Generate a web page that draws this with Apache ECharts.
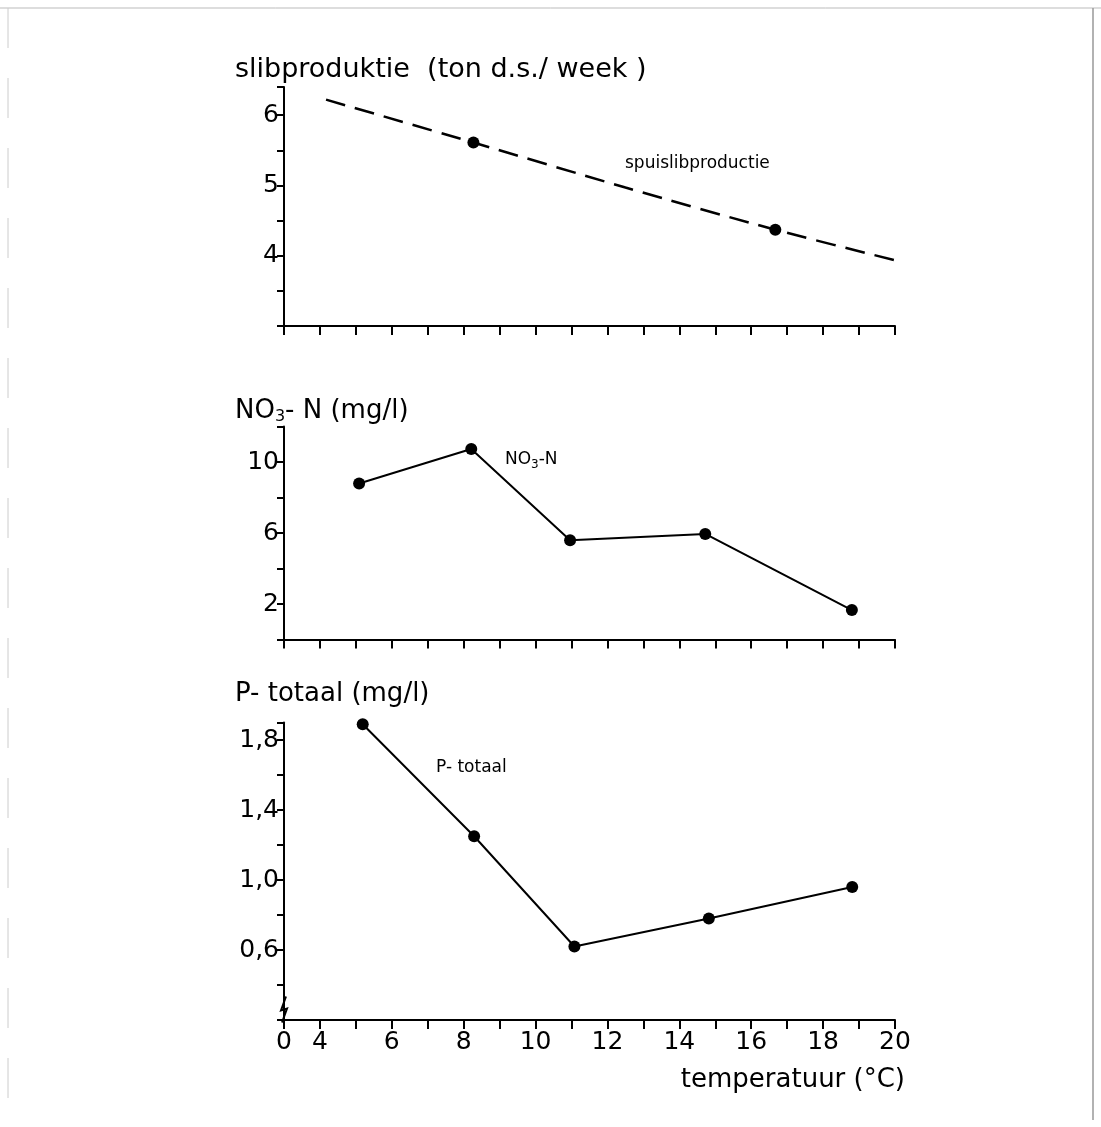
<!DOCTYPE html>
<html>
<head>
<meta charset="UTF-8">
<title>slibproduktie, NO3-N en P-totaal tegen temperatuur</title>
<script src="https://cdn.jsdelivr.net/npm/echarts@6/dist/echarts.min.js"></script>
<style>
    body { margin: 0; background: #fff; }
    #chart { width: 1101px; height: 1127px; }
</style>
</head>
<body>
<div id="chart"></div>
<script>
// temperatuur (x); 3 on the axis is drawn as "0" (broken axis)
var slibCurveT = [4.17, 8.27, 12.5, 16.67, 20.43];
var slibCurveV = [6.22, 5.61, 4.97, 4.37, 3.88];
var slibDotT = [8.27, 16.67];
var slibDotV = [5.61, 4.37];

var no3T = [5.09, 8.21, 10.96, 14.72, 18.8];
var no3V = [8.79, 10.73, 5.59, 5.95, 1.66];

var ptotT = [5.19, 8.29, 11.08, 14.82, 18.81];
var ptotV = [1.89, 1.25, 0.62, 0.78, 0.96];

var font = 'DejaVu Sans';

function zip(a, b) {
    return a.map(function (v, i) { return [v, b[i]]; });
}

var chart = echarts.init(document.getElementById('chart'));

function xAxis(idx, showLabels) {
    return {
        type: 'value', gridIndex: idx, min: 3, max: 20, interval: 1,
        axisLine: { lineStyle: { color: '#000', width: 2 } },
        axisTick: { show: true, inside: false, length: 9, lineStyle: { color: '#000', width: 2 } },
        splitLine: { show: false },
        axisLabel: {
            show: showLabels, margin: 10, color: '#000', fontSize: 25, fontFamily: font,
            formatter: function (v) {
                if (v === 3) return '0';
                return v % 2 === 0 ? String(v) : '';
            }
        }
    };
}

function yAxis(idx, min, max, step, fmt) {
    return {
        type: 'value', gridIndex: idx, min: min, max: max, interval: step,
        axisLine: { show: true, lineStyle: { color: '#000', width: 2 } },
        axisTick: { show: true, length: 7, lineStyle: { color: '#000', width: 2 } },
        splitLine: { show: false },
        axisLabel: { margin: 5, color: '#000', fontSize: 25, fontFamily: font, formatter: fmt }
    };
}

var dotStyle = { color: '#000', opacity: 1 };

chart.setOption({
    animation: false,
    backgroundColor: '#fff',
    title: [
        { text: 'slibproduktie  (ton d.s./ week )', left: 230, top: 51,
          textStyle: { color: '#000', fontSize: 27, fontWeight: 'normal', fontFamily: font } },
        { text: 'NO{s|3}- N (mg/l)', left: 230, top: 392,
          textStyle: { color: '#000', fontSize: 26, fontWeight: 'normal', fontFamily: font,
            rich: { s: { fontSize: 16, fontFamily: font, color: '#000', padding: [12, 0, 0, 0] } } } },
        { text: 'P- totaal (mg/l)', left: 230, top: 676,
          textStyle: { color: '#000', fontSize: 26, fontWeight: 'normal', fontFamily: font } }
    ],
    grid: [
        { left: 284, right: 206, top: 87, height: 239 },
        { left: 284, right: 206, top: 426.5, height: 213 },
        { left: 284, right: 206, top: 722.5, height: 297.5 }
    ],
    xAxis: [xAxis(0, false), xAxis(1, false), xAxis(2, true)],
    yAxis: [
        yAxis(0, 3, 6.4, 0.5, function (v) { return Number.isInteger(v) && v > 3 ? String(v) : ''; }),
        yAxis(1, 0, 12, 2, function (v) { return v % 4 === 2 ? String(v) : ''; }),
        yAxis(2, 0.2, 1.9, 0.2, function (v) {
            var n = Math.round(v * 10);
            return (n === 6 || n === 10 || n === 14 || n === 18) ? (n / 10).toFixed(1).replace('.', ',') : '';
        })
    ],
    series: [
        { type: 'line', xAxisIndex: 0, yAxisIndex: 0, data: zip(slibCurveT, slibCurveV),
          showSymbol: false, clip: false, smooth: 0.3,
          lineStyle: { color: '#000', width: 2.5, type: [20, 10] } },
        { type: 'scatter', xAxisIndex: 0, yAxisIndex: 0, data: zip(slibDotT, slibDotV),
          symbolSize: 12, itemStyle: dotStyle },
        { type: 'line', xAxisIndex: 1, yAxisIndex: 1, data: zip(no3T, no3V),
          symbol: 'circle', symbolSize: 12, itemStyle: dotStyle,
          lineStyle: { color: '#000', width: 2 } },
        { type: 'line', xAxisIndex: 2, yAxisIndex: 2, data: zip(ptotT, ptotV),
          symbol: 'circle', symbolSize: 12, itemStyle: dotStyle, clip: false,
          lineStyle: { color: '#000', width: 2 } }
    ]
});

// annotations, axis break mark and the scan frame
var brk = chart.convertToPixel({ gridIndex: 2 }, [3, 0.26]);
chart.setOption({
    graphic: [
        { type: 'text', left: 625, top: 155,
          style: { text: 'spuislibproductie', fill: '#000', fontSize: 17, fontFamily: font } },
        { type: 'text', left: 505, top: 451,
          style: { text: 'NO{s|3}-N', fill: '#000', fontSize: 17, fontFamily: font,
            rich: { s: { fontSize: 12, fontFamily: font, fill: '#000', padding: [10, 0, 0, 0] } } } },
        { type: 'text', left: 436, top: 759,
          style: { text: 'P- totaal', fill: '#000', fontSize: 17, fontFamily: font } },
        { type: 'text', right: 196, top: 1067,
          style: { text: 'temperatuur (°C)', fill: '#000', fontSize: 26, fontFamily: font } },
        { type: 'rect', shape: { x: brk[0] - 4, y: brk[1] - 11, width: 8, height: 22 },
          style: { fill: '#fff' } },
        { type: 'polyline',
          shape: { points: [[brk[0] + 2, brk[1] - 13], [brk[0] - 3, brk[1] + 1], [brk[0] + 3, brk[1] - 1], [brk[0] - 2, brk[1] + 13]] },
          style: { stroke: '#000', lineWidth: 2, fill: null } },
        { type: 'line', shape: { x1: 0, y1: 8, x2: 1101, y2: 8 }, style: { stroke: '#bbb', lineWidth: 1 } },
        { type: 'line', shape: { x1: 1093, y1: 8, x2: 1093, y2: 1120 }, style: { stroke: '#999', lineWidth: 1.5 } },
        { type: 'line', shape: { x1: 8, y1: 8, x2: 8, y2: 1120 }, style: { stroke: '#ccc', lineWidth: 1, lineDash: [40, 30] } }
    ]
});
</script>
</body>
</html>
